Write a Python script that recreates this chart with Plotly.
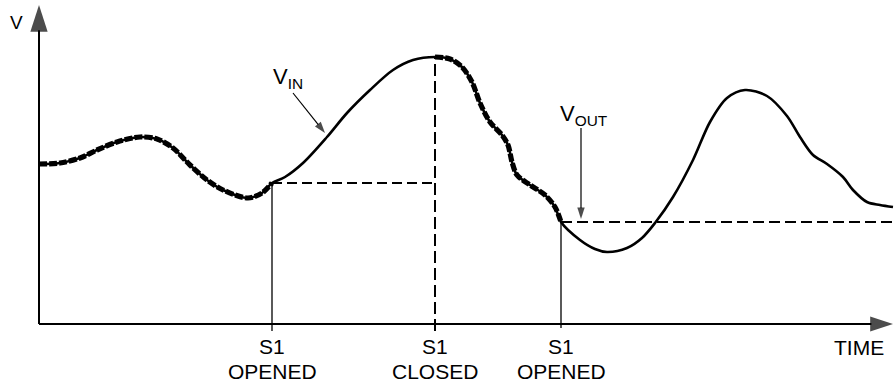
import plotly.graph_objects as go

# Input signal V_IN sampled along the time axis (arbitrary units)
t_in = [0, 21, 41, 58, 78, 101, 118, 134, 151, 168, 184, 209, 223, 233, 246,
        264, 288, 308, 331, 354, 374, 396, 411, 423, 433, 441, 451, 463, 469,
        473, 478, 491, 506, 516, 522, 541, 556, 568, 588, 603, 616, 634, 654,
        671, 688, 706, 728, 748, 761, 774, 788, 804, 814, 828, 841, 854]
v_in = [160, 161, 166, 174, 182, 187, 185, 176, 159, 144, 134, 126, 131, 141, 147,
        161, 187, 211, 234, 254, 264, 267, 265, 257, 242, 221, 202, 189, 179,
        162, 149, 139, 129, 117, 102, 84, 75, 72, 76, 86, 101, 127, 164,
        202, 226, 234, 228, 208, 187, 169, 160, 147, 134, 122, 119, 117]

# Switch S1 events
switch_times = [233, 396, 522]
switch_states = ["OPENED", "CLOSED", "OPENED"]

t_end = 855
v_top = 319

t_open1, t_close, t_open2 = switch_times
hold1 = v_in[t_in.index(t_open1)]
hold2 = v_in[t_in.index(t_open2)]
v_close = v_in[t_in.index(t_close)]

track1 = [(t, v) for t, v in zip(t_in, v_in) if t <= t_open1]
track2 = [(t, v) for t, v in zip(t_in, v_in) if t_close <= t <= t_open2]

INK = "#000000"
FONT = "Liberation Sans, Arial, Helvetica, sans-serif"

fig = go.Figure()


def line(xs, ys, width, dash="solid", spline=False):
    fig.add_trace(go.Scatter(
        x=xs, y=ys, mode="lines", hoverinfo="skip",
        line=dict(color=INK, width=width, dash=dash,
                  shape="spline" if spline else "linear", smoothing=0.9)))


def arrow(xs, ys, width, head):
    # straight pointer ending in an arrowhead at the last point
    fig.add_trace(go.Scatter(
        x=xs, y=ys, mode="lines+markers", hoverinfo="skip",
        line=dict(color=INK, width=width),
        marker=dict(symbol="arrow", size=[0, head], color=INK,
                    angleref="previous", line=dict(width=0))))


# V_IN solid curve
line(t_in, v_in, 2.6, spline=True)

# V_OUT tracking segments (heavy dashes over V_IN)
for seg in (track1, track2):
    line([p[0] for p in seg], [p[1] for p in seg], 5.2, dash="8px,2px", spline=True)

# V_OUT hold segments
line([t_open1, t_close], [hold1, hold1], 2.2, dash="10px,5px")
line([t_open2, t_end], [hold2, hold2], 2.2, dash="11px,5px")

# switch event markers
line([t_open1, t_open1], [-7, hold1], 1.3)
line([t_close, t_close], [-7, v_close], 2.0, dash="12px,5px")
line([t_open2, t_open2], [-4, hold2], 1.3)

# axes with arrowheads
arrow([0, 0], [0, v_top], 2, 28)
arrow([0, t_end - 1], [0, 0], 2, 24)

# V_IN and V_OUT pointers
arrow([254, 286], [231, 191], 1.2, 12)
arrow([542, 542], [196, 105], 1.2, 12)

annotations = []

# axis titles
annotations.append(dict(x=-23, y=302, xref="x", yref="y", text="V", showarrow=False,
                        font=dict(family=FONT, size=19, color=INK)))
annotations.append(dict(x=820, y=-23, xref="x", yref="y", text="TIME", showarrow=False,
                        font=dict(family=FONT, size=21, color=INK)))

# switch labels under the time axis
for t, state in zip(switch_times, switch_states):
    annotations.append(dict(x=t, y=-22, xref="x", yref="y", text="S1",
                            showarrow=False, font=dict(family=FONT, size=21, color=INK)))
    annotations.append(dict(x=t, y=-47, xref="x", yref="y", text=state,
                            showarrow=False, font=dict(family=FONT, size=21, color=INK)))

# signal labels
annotations.append(dict(x=232, y=246, xref="x", yref="y", text="V<sub>IN</sub>",
                        xanchor="left", showarrow=False,
                        font=dict(family=FONT, size=22, color=INK)))
annotations.append(dict(x=519, y=209, xref="x", yref="y", text="V<sub>OUT</sub>",
                        xanchor="left", showarrow=False,
                        font=dict(family=FONT, size=22, color=INK)))

fig.update_layout(
    width=894, height=384,
    margin=dict(l=0, r=0, t=0, b=0),
    paper_bgcolor="white", plot_bgcolor="white",
    showlegend=False,
    xaxis=dict(range=[-39, 855], visible=False, fixedrange=True),
    yaxis=dict(range=[-60, 324], visible=False, fixedrange=True),
    annotations=annotations,
)

fig.write_html("out.html")
